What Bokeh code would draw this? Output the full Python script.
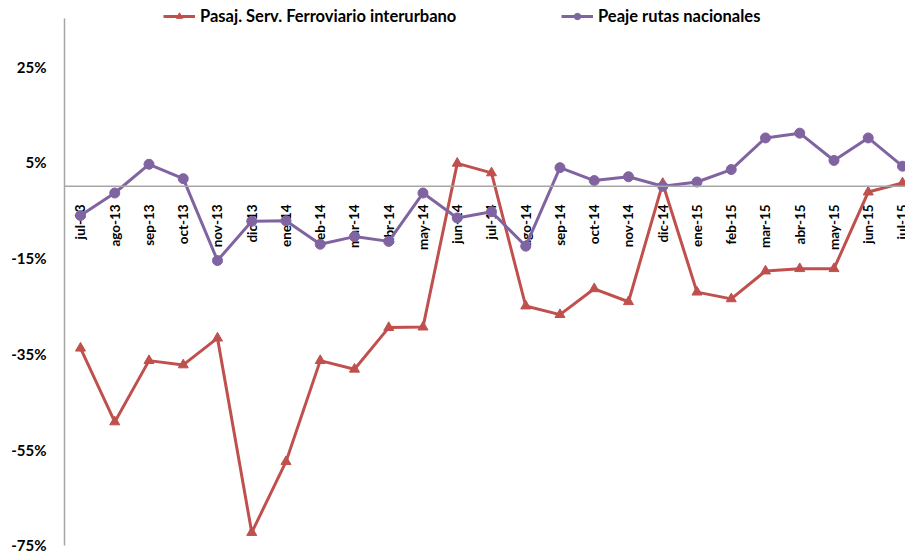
import numpy as np
from bokeh.plotting import figure
from bokeh.models import Range1d, FixedTicker, Span, Legend, LegendItem
from bokeh.core.properties import value
from bokeh.embed import file_html
from bokeh.resources import INLINE

months = ["jul-13", "ago-13", "sep-13", "oct-13", "nov-13", "dic-13", "ene-14", "feb-14",
          "mar-14", "abr-14", "may-14", "jun-14", "jul-14", "ago-14", "sep-14", "oct-14",
          "nov-14", "dic-14", "ene-15", "feb-15", "mar-15", "abr-15", "may-15", "jun-15", "jul-15"]

pasaj = [-33.8, -49.2, -36.4, -37.3, -31.7, -72.3, -57.5, -36.4, -38.2, -29.5, -29.4, 4.8,
         2.8, -25.0, -26.8, -21.4, -24.1, 0.6, -22.1, -23.5, -17.7, -17.2, -17.2, -1.2, 0.7]

peaje = [-6.1, -1.4, 4.6, 1.6, -15.5, -7.3, -7.2, -12.1, -10.5, -11.5, -1.4, -6.6, -5.3,
         -12.5, 3.9, 1.2, 2.0, 0.0, 0.9, 3.5, 10.1, 11.1, 5.4, 10.1, 4.2]

y_ticks = [-75, -55, -35, -15, 5, 25]

RED = "#C0504D"
PURPLE = "#8064A2"
GRAY = "#a6a6a6"
FONT = "Lato"

x = list(range(len(months)))

p = figure(width=905, height=553, output_backend="svg", toolbar_location=None,
           x_range=Range1d(-0.467, 24.088), y_range=Range1d(-75.63, 37.13),
           x_axis_location=None, min_border_left=64, min_border_right=0,
           min_border_top=8, min_border_bottom=5)
p.grid.visible = False
p.outline_line_color = None
p.background_fill_color = "white"

yax = p.yaxis[0]
yax.ticker = FixedTicker(ticks=y_ticks)
yax.major_label_overrides = {t: f"{t}%" for t in y_ticks}
yax.bounds = (-75, 35)
yax.major_tick_out = 0
yax.major_tick_in = 0
yax.minor_tick_out = 0
yax.minor_tick_in = 0
yax.axis_line_color = GRAY
yax.axis_line_width = 1.5
yax.major_label_standoff = 18
yax.major_label_text_font = FONT
yax.major_label_text_font_style = "bold"
yax.major_label_text_font_size = "15px"
yax.major_label_text_color = "black"

p.add_layout(Span(location=0, dimension="width", line_color=GRAY, line_width=1.5))

p.text(x=x, y=[0] * len(x), text=months, angle=np.pi / 2, text_align="right",
       text_baseline="middle", y_offset=18, text_font=value(FONT),
       text_font_style="bold", text_font_size="13.5px", text_color="black")

r1 = p.line(x, pasaj, line_color=RED, line_width=3)
s1 = p.scatter(x, pasaj, marker="triangle", size=10, fill_color=RED, line_color=RED)
r2 = p.line(x, peaje, line_color=PURPLE, line_width=3)
s2 = p.scatter(x, peaje, marker="circle", size=10, fill_color=PURPLE, line_color=PURPLE)


def make_legend(label, renderers, loc):
    lg = Legend(items=[LegendItem(label=label, renderers=renderers)], location=loc,
                orientation="horizontal", padding=0, margin=0, border_line_color=None,
                background_fill_alpha=0, label_text_font=FONT, label_text_font_style="bold",
                label_text_font_size="16.5px", label_text_color="black", glyph_width=32,
                glyph_height=16, label_height=16, label_standoff=5, spacing=0)
    return lg


p.add_layout(make_legend("Pasaj. Serv. Ferroviario interurbano", [r1, s1], (99, 522)), "center")
p.add_layout(make_legend("Peaje rutas nacionales", [r2, s2], (497, 522)), "center")

open("out.html", "w").write(file_html(p, INLINE))
